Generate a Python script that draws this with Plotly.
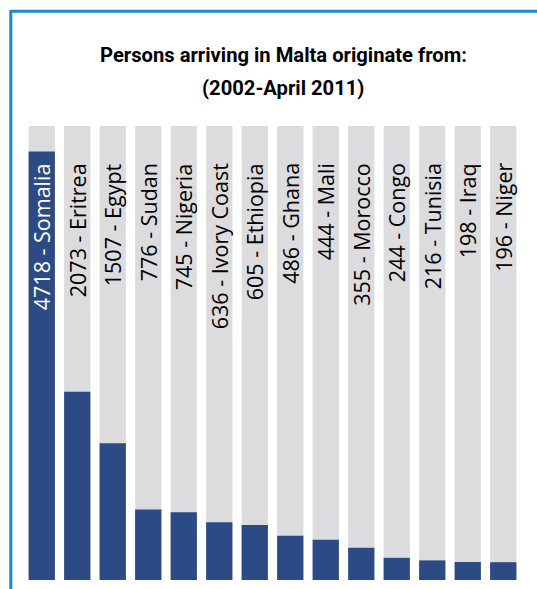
import plotly.graph_objects as go

countries = ["Somalia", "Eritrea", "Egypt", "Sudan", "Nigeria", "Ivory Coast", "Ethiopia",
             "Ghana", "Mali", "Morocco", "Congo", "Tunisia", "Iraq", "Niger"]
persons = [4718, 2073, 1507, 776, 745, 636, 605, 486, 444, 355, 244, 216, 198, 196]
scale_max = 5000

W, H = 537, 589
ML, MR, MT, MB = 24, 16, 126, 9
pw = W - ML - MR
ph = H - MT - MB

BLUE = "#2c4a84"
GREY = "#dcdcde"
FRAME = "#1a8dc8"

fig = go.Figure()
fig.add_trace(go.Bar(x=countries, y=[scale_max] * len(countries), marker_color=GREY,
                     marker_line_width=0, hoverinfo="skip", showlegend=False))
fig.add_trace(go.Bar(x=countries, y=persons, marker_color=BLUE, marker_line_width=0,
                     showlegend=False))

label_y = scale_max * (580 - 161) / ph
for c, v in zip(countries, persons):
    fig.add_annotation(x=c, y=label_y, text=f"{v} - {c}", textangle=-90, showarrow=False,
                       xanchor="center", yanchor="top",
                       font=dict(family="Open Sans, Noto Sans, sans-serif", size=21.5,
                                 color="white" if v > label_y * 0.7 else "black"))

TFONT = dict(family="Roboto, Lato, sans-serif", size=20.2, color="black", weight="bold")
fig.add_annotation(xref="paper", yref="paper", x=(283 - ML) / pw, y=(H - MB - 55) / ph,
                   text="Persons arriving in Malta originate from:", showarrow=False,
                   xanchor="center", yanchor="middle", font=TFONT)
fig.add_annotation(xref="paper", yref="paper", x=(283 - ML) / pw, y=(H - MB - 88) / ph,
                   text="(2002-April 2011)", showarrow=False,
                   xanchor="center", yanchor="middle", font=TFONT)

def px_x(p):
    return (p - ML) / pw

def px_y(p):
    return (H - MB - p) / ph

fig.add_shape(type="line", xref="paper", yref="paper", x0=px_x(10.8), x1=px_x(W + 5),
              y0=px_y(11.3), y1=px_y(11.3), line=dict(color=FRAME, width=3))
fig.add_shape(type="line", xref="paper", yref="paper", x0=px_x(10.8), x1=px_x(10.8),
              y0=px_y(10), y1=px_y(H + 5), line=dict(color=FRAME, width=3))

fig.update_layout(width=W, height=H, margin=dict(l=ML, r=MR, t=MT, b=MB),
                  barmode="overlay", bargap=0.26, plot_bgcolor="white", paper_bgcolor="white")
fig.update_xaxes(visible=False, range=[-0.5, len(countries) - 0.5])
fig.update_yaxes(visible=False, range=[0, scale_max])
fig.write_html("out.html", config={"displayModeBar": False},
               post_script="document.body.style.margin='0';document.body.style.overflow='hidden';")
